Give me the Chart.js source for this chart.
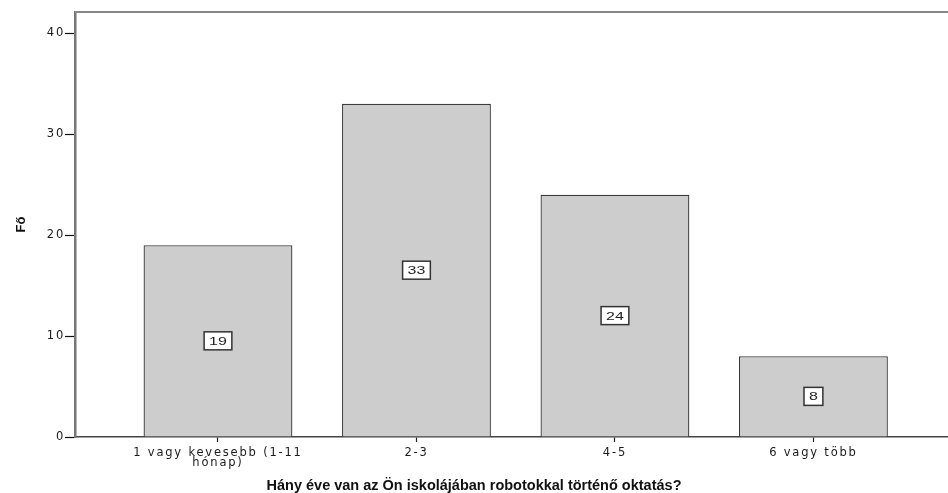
<!DOCTYPE html>
<html><head><meta charset="utf-8">
<script src="https://cdn.jsdelivr.net/npm/chart.js@4"></script>
<style>html,body{margin:0;padding:0;background:#fff;overflow:hidden}canvas{display:block}</style>
</head><body>
<canvas id="c" width="948" height="493"></canvas>
<script>
const categories = [["1 vagy kevesebb (1-11", "hónap)"], "2-3", "4-5", "6 vagy több"];
const counts = [19, 33, 24, 8];
const yTicks = [0, 10, 20, 30, 40];
const xTitle = "Hány éve van az Ön iskolájában robotokkal történő oktatás?";
const yTitle = "Fő";

const frame = {
  id: 'frame',
  beforeDatasetsDraw(chart) {
    const {ctx, chartArea: a} = chart;
    ctx.save();
    ctx.strokeStyle = '#888';
    ctx.lineWidth = 2;
    ctx.beginPath();
    ctx.moveTo(a.left, a.top);
    ctx.lineTo(chart.width, a.top);
    ctx.stroke();
    ctx.restore();
  }
};

const boxLabels = {
  id: 'boxLabels',
  afterDatasetsDraw(chart) {
    const ctx = chart.ctx;
    const meta = chart.getDatasetMeta(0);
    ctx.save();
    ctx.font = '11px "Liberation Sans", Arial, sans-serif';
    meta.data.forEach((bar, i) => {
      const txt = String(counts[i]);
      const cx = bar.x, cy = (bar.y + bar.base) / 2;
      const sx = 1.45;
      const tw = ctx.measureText(txt).width * sx;
      const w = tw + 10, h = 18;
      ctx.fillStyle = '#fff';
      ctx.fillRect(cx - w / 2, cy - h / 2, w, h);
      ctx.lineWidth = 1.5;
      ctx.strokeStyle = '#333';
      ctx.strokeRect(cx - w / 2, cy - h / 2, w, h);
      ctx.save();
      ctx.translate(cx, cy);
      ctx.scale(sx, 1);
      ctx.fillStyle = '#222';
      ctx.textAlign = 'center';
      ctx.textBaseline = 'middle';
      ctx.fillText(txt, 0, 1);
      ctx.restore();
    });
    ctx.restore();
    ctx.letterSpacing = '1.8px';
  },
  afterDraw(chart) { chart.ctx.letterSpacing = '0px'; }
};

new Chart(document.getElementById('c'), {
  type: 'bar',
  data: {
    datasets: [{
      data: counts.map((v, i) => ({x: i, y: v})),
      backgroundColor: '#cdcdcd',
      borderColor: '#3a3a3a',
      borderWidth: 1.3,
      barPercentage: 0.75,
      categoryPercentage: 1,
      clip: false
    }]
  },
  options: {
    responsive: false,
    animation: false,
    layout: {padding: {top: 12, left: 0, right: 0, bottom: 0}},
    plugins: {
      legend: {display: false},
      tooltip: {enabled: false},
      title: {
        display: true, text: xTitle, position: 'bottom', align: 'center', color: '#111',
        font: {family: '"Liberation Sans", Arial, sans-serif', size: 14.5, weight: 'bold', lineHeight: 1},
        padding: {top: 8.5, bottom: 0}
      }
    },
    scales: {
      x: {
        type: 'linear', offset: false, min: -0.7204, max: 3.678,
        afterBuildTicks(s) { s.ticks = categories.map((_, i) => ({value: i})); },
        afterFit(s) { s.height = 33; },
        ticks: {
          z: 1, autoSkip: false, maxRotation: 0, padding: 5.5, color: '#1a1a1a',
          font: {family: '"DejaVu Sans", sans-serif', size: 11.5, lineHeight: 0.88},
          callback: (v) => categories[v]
        },
        grid: {offset: false, drawOnChartArea: false, tickLength: 5, tickColor: '#222', tickWidth: 1.2},
        border: {color: '#444', width: 1.5}
      },
      y: {
        min: 0, max: 42.1,
        afterFit(s) { s.width = 75; },
        afterBuildTicks(s) { s.ticks = yTicks.map(v => ({value: v})); },
        ticks: {z: 1, padding: 0, color: '#1a1a1a', font: {family: '"DejaVu Sans", sans-serif', size: 11.5}},
        grid: {drawOnChartArea: false, tickLength: 10, tickColor: '#111', tickWidth: 1.2},
        border: {color: '#777', width: 2.5},
        title: {
          display: true, text: yTitle, color: '#111',
          font: {family: '"Liberation Sans", Arial, sans-serif', size: 13, weight: 'bold'},
          padding: {top: 14, bottom: 0}
        }
      }
    }
  },
  plugins: [frame, boxLabels]
});
</script>
</body></html>
